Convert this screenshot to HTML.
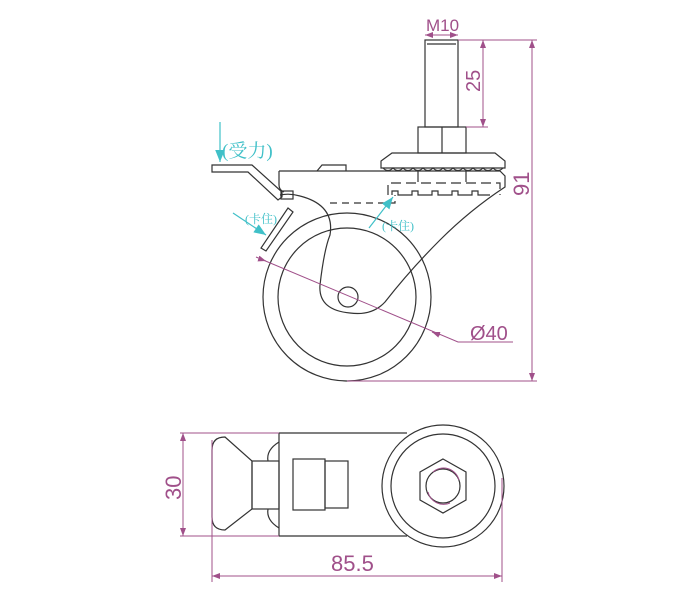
<!DOCTYPE html>
<html><head><meta charset="utf-8"><style>html,body{margin:0;padding:0;background:#fff}svg{display:block}</style></head>
<body>
<svg width="700" height="600" viewBox="0 0 700 600" xmlns="http://www.w3.org/2000/svg" font-family="Liberation Sans, sans-serif">
<defs>
<marker id="a" markerWidth="8" markerHeight="6" refX="8" refY="3" orient="auto"><path d="M0,0 L8,3 L0,6 z" fill="#a0508a"/></marker>
<marker id="c" markerWidth="10" markerHeight="8" refX="10" refY="4" orient="auto"><path d="M0,0 L10,4 L0,8 z" fill="#40c0c8"/></marker>
</defs>
<g fill="none" stroke="#333" stroke-width="1.2">
<rect x="425" y="40" width="33" height="87"/>
<line x1="427" y1="44" x2="456" y2="44"/>
<rect x="418" y="127" width="48" height="26"/>
<line x1="442" y1="127" x2="442" y2="153"/>
<path d="M392,153 L495,153 L505,161 L505,168 L381,168 L381,161 Z"/>
<path d="M383,168 q5,5 10,0 q5,5 10,0 q5,5 10,0 q5,5 10,0 q5,5 10,0 q5,5 10,0 q5,5 10,0 q5,5 10,0 q5,5 10,0 q5,5 10,0 q5,5 10,0 q5,5 10,0"/>
<line x1="418" y1="170" x2="418" y2="182"/><line x1="466" y1="170" x2="466" y2="182"/>
<path d="M317,171 L322,165 L346,165 L346,171"/>
<path d="M279,171 L500,171 L505,176 L505,187 Q470,210 440,240 Q410,270 385,302 Q372,316 350,313 Q318,310 320,285 Q324,250 330,235 Q335,205 300,196 Q290,193 280,195"/>
<path d="M279,171 L279,185 Q279,190 284,192"/>
<path d="M212,165 L252,165 L282,192 L282,197 L278,200 L248,172 L212,172 Z"/>
<rect x="281" y="191" width="12" height="8"/>
<path d="M288,208 L293,212 L266,251 L261,248 Z"/>
<path d="M330,203 L395,203 L395,195" stroke-dasharray="7,5"/>
<path d="M388,195 L388,183 L500,183 L500,195" stroke-dasharray="10,5"/>
<path d="M392,195 l0,-4 l6,0 l0,4 l14,0 l0,-4 l6,0 l0,4 l14,0 l0,-4 l6,0 l0,4 l14,0 l0,-4 l6,0 l0,4 l14,0 l0,-4 l6,0 l0,4 l12,0"/>
<circle cx="347" cy="297" r="84"/>
<circle cx="347" cy="297" r="69"/>
<circle cx="348" cy="297" r="10"/>
<path d="M279,433 L407,433"/><path d="M279,536 L407,536"/>
<line x1="279" y1="433" x2="279" y2="536"/>
<circle cx="443" cy="486" r="61"/>
<circle cx="443" cy="486" r="52"/>
<polygon points="443,459 466,472 466,500 443,513 420,500 420,472"/>
<circle cx="443" cy="486" r="17"/>
<path d="M225,437 Q212,437 212,450 L212,517 Q212,530 225,530 L252,509 L252,461 Z"/>
<rect x="252" y="461" width="27" height="48"/>
<path d="M279,442 Q266,450 268,461"/><path d="M279,528 Q266,520 268,509"/>
<rect x="293" y="459" width="32" height="51"/>
<rect x="325" y="461" width="23" height="47"/>
</g>
<path d="M433,472 A16,16 0 0 1 459,480" stroke="#a0508a" fill="none"/>
<path d="M428,492 A16,16 0 0 0 450,503" stroke="#a0508a" fill="none"/>
<g stroke="#a0508a" stroke-width="1" fill="none">
<line x1="425" y1="35" x2="458" y2="35" marker-end="url(#a)"/><line x1="458" y1="35" x2="425" y2="35" marker-end="url(#a)"/>
<line x1="458" y1="40" x2="488" y2="40"/><line x1="466" y1="127" x2="488" y2="127"/>
<line x1="483" y1="40" x2="483" y2="127" marker-end="url(#a)"/><line x1="483" y1="127" x2="483" y2="40" marker-end="url(#a)"/>
<line x1="458" y1="40" x2="537" y2="40"/><line x1="347" y1="381" x2="537" y2="381"/>
<line x1="532" y1="40" x2="532" y2="381" marker-end="url(#a)"/><line x1="532" y1="381" x2="532" y2="40" marker-end="url(#a)"/>
<polyline points="256,257 458,342 513,342"/>
<line x1="260" y1="259" x2="266" y2="261" marker-end="url(#a)"/>
<line x1="440" y1="335" x2="432" y2="332" marker-end="url(#a)"/>
<line x1="180" y1="433" x2="279" y2="433"/><line x1="180" y1="536" x2="279" y2="536"/>
<line x1="183" y1="433" x2="183" y2="536" marker-end="url(#a)"/><line x1="183" y1="536" x2="183" y2="433" marker-end="url(#a)"/>
<line x1="212" y1="440" x2="212" y2="582"/><line x1="502" y1="478" x2="502" y2="582"/>
<line x1="212" y1="576" x2="502" y2="576" marker-end="url(#a)"/><line x1="502" y1="576" x2="212" y2="576" marker-end="url(#a)"/>
</g>
<g fill="#a0508a" font-size="20">
<text x="426" y="31" font-size="17">M10</text>
<text transform="translate(480,92) rotate(-90)">25</text>
<text transform="translate(529,196) rotate(-90)" font-size="22">91</text>
<text x="470" y="340" font-size="20">Ø40</text>
<text transform="translate(181,500) rotate(-90)" font-size="22">30</text>
<text x="331" y="571" font-size="22">85.5</text>
</g>
<g stroke="#40c0c8" stroke-width="1.2">
<line x1="220" y1="122" x2="220" y2="162" marker-end="url(#c)"/>
<line x1="233" y1="213" x2="266" y2="235" marker-end="url(#c)"/>
<line x1="369" y1="228" x2="393" y2="197" marker-end="url(#c)"/>
</g>
<g fill="#40c0c8" font-family="Liberation Serif, Noto Serif CJK SC, serif">
<text x="222" y="157" font-size="19">(受力)</text>
<text x="245" y="223" font-size="12">(卡住)</text>
<text x="382" y="230" font-size="12">(卡住)</text>
</g>
</svg>
</body></html>
